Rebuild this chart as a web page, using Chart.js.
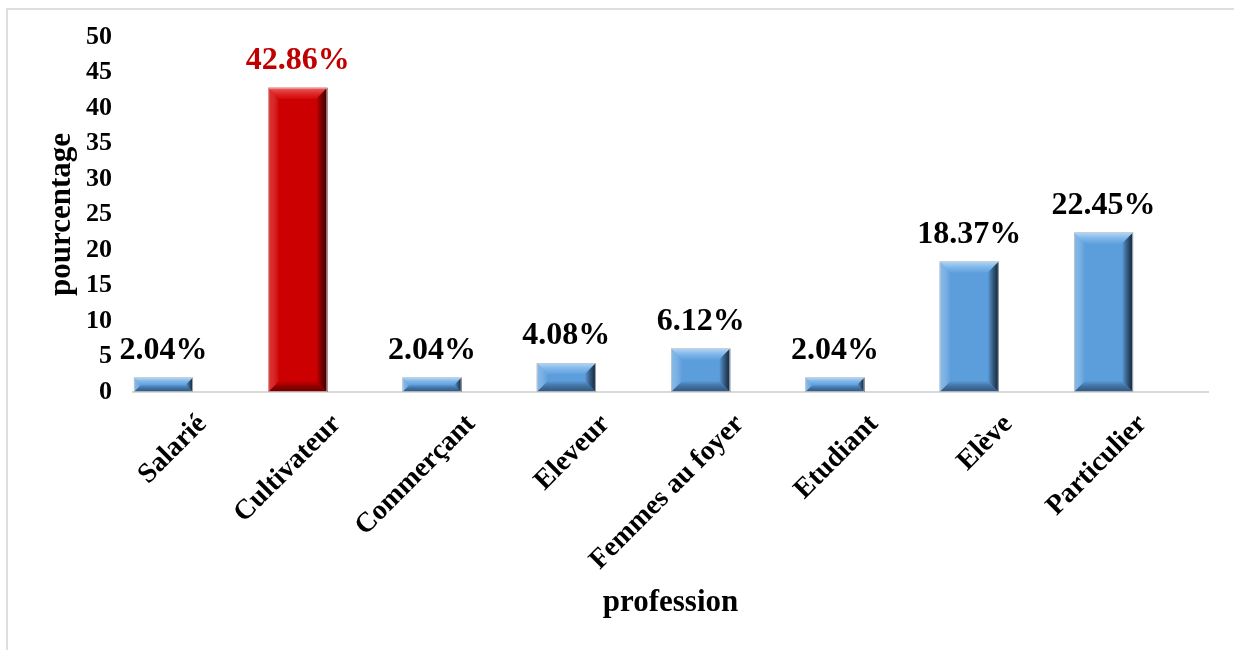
<!DOCTYPE html>
<html>
<head>
<meta charset="utf-8">
<script src="https://cdn.jsdelivr.net/npm/chart.js@4/dist/chart.umd.min.js"></script>
<style>
  body { margin: 0; background: #fff; overflow: hidden; }
  #frame { position: absolute; left: 6px; top: 8px; width: 1228px; height: 642px; border-left: 2px solid #dedede; border-top: 2px solid #dedede; }
  #wrap { position: absolute; left: 0; top: 0; width: 1234px; height: 650px; }
</style>
</head>
<body>
<div id="frame"></div>
<div id="wrap"><canvas id="professionChart" width="1234" height="650"></canvas></div>
<script>
const categories = ['Salarié', 'Cultivateur', 'Commerçant', 'Eleveur', 'Femmes au foyer', 'Etudiant', 'Elève', 'Particulier'];
const percentages = [2.04, 42.86, 2.04, 4.08, 6.12, 2.04, 18.37, 22.45];
const yTicks = [0, 5, 10, 15, 20, 25, 30, 35, 40, 45, 50];
const highlighted = 'Cultivateur';

const serif = "'Liberation Serif', 'Times New Roman', serif";
const BLUE = '#5c9ddc';
const RED = '#cc0000';

function isHighlighted(i) {
    return categories[i] === highlighted;
}

// bevelled look: light top/left edges, dark right/bottom edges
const bevelPlugin = {
    id: 'bevel',
    afterDatasetsDraw(chart) {
        const ctx = chart.ctx;
        chart.getDatasetMeta(0).data.forEach((bar, i) => {
            const p = bar.getProps(['x', 'y', 'base', 'width'], true);
            const l = p.x - p.width / 2, r = p.x + p.width / 2;
            const t = p.y, btm = p.base;
            const b = Math.min(11, (btm - t) / 2);
            const red = isHighlighted(i);
            const light = red ? 'rgba(255,120,120,0.8)' : 'rgba(195,228,255,0.85)';
            const dark = red ? '#3a0000' : '#14263a';

            ctx.save();
            // top
            let g = ctx.createLinearGradient(0, t, 0, t + b);
            g.addColorStop(0, light);
            g.addColorStop(1, red ? 'rgba(230,40,40,0.3)' : 'rgba(120,180,235,0.3)');
            ctx.fillStyle = g;
            ctx.beginPath();
            ctx.moveTo(l, t); ctx.lineTo(r, t); ctx.lineTo(r - b, t + b); ctx.lineTo(l + b, t + b);
            ctx.closePath(); ctx.fill();
            // left
            g = ctx.createLinearGradient(l, 0, l + b, 0);
            g.addColorStop(0, red ? 'rgba(255,90,90,0.45)' : 'rgba(170,210,245,0.5)');
            g.addColorStop(1, 'rgba(255,255,255,0)');
            ctx.fillStyle = g;
            ctx.beginPath();
            ctx.moveTo(l, t); ctx.lineTo(l + b, t + b); ctx.lineTo(l + b, btm - b); ctx.lineTo(l, btm);
            ctx.closePath(); ctx.fill();
            // right
            g = ctx.createLinearGradient(r - b, 0, r, 0);
            g.addColorStop(0, 'rgba(0,0,0,0)');
            g.addColorStop(1, dark);
            ctx.fillStyle = g;
            ctx.beginPath();
            ctx.moveTo(r, t); ctx.lineTo(r, btm); ctx.lineTo(r - b, btm - b); ctx.lineTo(r - b, t + b);
            ctx.closePath(); ctx.fill();
            // bottom
            g = ctx.createLinearGradient(0, btm - b, 0, btm);
            g.addColorStop(0, 'rgba(0,0,0,0)');
            g.addColorStop(1, red ? 'rgba(70,0,0,0.7)' : 'rgba(30,60,95,0.7)');
            ctx.fillStyle = g;
            ctx.beginPath();
            ctx.moveTo(l, btm); ctx.lineTo(r, btm); ctx.lineTo(r - b, btm - b); ctx.lineTo(l + b, btm - b);
            ctx.closePath(); ctx.fill();
            // thin outline
            ctx.strokeStyle = 'rgba(200,200,200,0.8)';
            ctx.lineWidth = 1;
            ctx.strokeRect(l + 0.5, t + 0.5, p.width - 1, btm - t - 1);
            ctx.restore();
        });
    }
};

// percentage above each bar
const valueLabels = {
    id: 'valueLabels',
    afterDatasetsDraw(chart) {
        const ctx = chart.ctx;
        ctx.save();
        ctx.font = 'bold 32px ' + serif;
        ctx.textAlign = 'center';
        ctx.textBaseline = 'alphabetic';
        chart.getDatasetMeta(0).data.forEach((bar, i) => {
            ctx.fillStyle = isHighlighted(i) ? '#c00000' : '#000';
            ctx.fillText(percentages[i].toFixed(2) + '%', bar.x, bar.y - 19);
        });
        ctx.restore();
    }
};

const ctx = document.getElementById('professionChart').getContext('2d');
new Chart(ctx, {
    type: 'bar',
    data: {
        datasets: [{
            data: percentages.map((v, i) => ({ x: i, y: v })),
            backgroundColor: c => isHighlighted(c.dataIndex) ? RED : BLUE,
            borderWidth: 0,
            categoryPercentage: 1,
            barPercentage: 0.44
        }]
    },
    options: {
        responsive: false,
        animation: false,
        layout: { padding: { top: 37, right: 26, left: 0, bottom: 0 } },
        plugins: {
            legend: { display: false },
            tooltip: { enabled: false }
        },
        scales: {
            x: {
                type: 'linear',
                offset: false,
                min: -0.227,
                max: 7.778,
                grid: { display: false, drawTicks: false },
                border: { display: true, color: '#d9d9d9', width: 2 },
                afterBuildTicks: s => { s.ticks = categories.map((_, i) => ({ value: i })); },
                afterFit: s => { s.height = 258; },
                ticks: {
                    autoSkip: false,
                    minRotation: 45,
                    maxRotation: 45,
                    labelOffset: 39,
                    padding: 16,
                    color: '#000',
                    font: { family: serif, size: 28, weight: 'bold' },
                    callback: v => categories[v]
                },
                title: {
                    display: true,
                    text: 'profession',
                    color: '#000',
                    font: { family: serif, size: 31, weight: 'bold' },
                    padding: { top: 0, bottom: 28 }
                }
            },
            y: {
                min: 0,
                max: 50,
                grid: { display: false, drawTicks: false },
                border: { display: false },
                afterBuildTicks: s => { s.ticks = yTicks.map(v => ({ value: v })); },
                afterFit: s => { s.width = 133; },
                ticks: {
                    padding: 21,
                    color: '#000',
                    font: { family: serif, size: 26, weight: 'bold' }
                },
                title: {
                    display: true,
                    text: 'pourcentage',
                    color: '#000',
                    font: { family: serif, size: 31, weight: 'bold' },
                    padding: { top: 43, bottom: 0 }
                }
            }
        }
    },
    plugins: [bevelPlugin, valueLabels]
});
</script>
</body>
</html>
